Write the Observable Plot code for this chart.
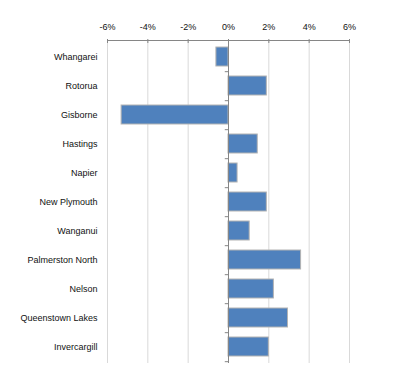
<!DOCTYPE html>
<html>
<head>
<meta charset="utf-8">
<script src="https://cdn.jsdelivr.net/npm/d3@7"></script>
<script src="https://cdn.jsdelivr.net/npm/@observablehq/plot@0.6"></script>
<style>
  html, body { margin: 0; padding: 0; background: #fff; }
  svg { display: block; }
</style>
</head>
<body>
<div id="chart"></div>
<script>
const cities = ["Whangarei", "Rotorua", "Gisborne", "Hastings", "Napier", "New Plymouth", "Wanganui", "Palmerston North", "Nelson", "Queenstown Lakes", "Invercargill"];
const changes = [-0.6, 1.9, -5.3, 1.45, 0.45, 1.9, 1.05, 3.6, 2.25, 2.95, 2.0];
const xTicks = [-6, -4, -2, 0, 2, 4, 6];

const data = cities.map((c, i) => ({city: c, value: changes[i]}));

const W = 414, H = 386, mT = 40, mB = 23, mL = 107, mR = 65;
const step = (H - mT - mB) / cities.length;

const chart = Plot.plot({
  width: W,
  height: H,
  marginTop: mT,
  marginBottom: mB,
  marginLeft: mL,
  marginRight: mR,
  style: {fontFamily: "'Liberation Sans', Arial, sans-serif", fontSize: "9px", color: "#111", background: "#fff"},
  x: {domain: [-6, 6], label: null},
  y: {domain: cities, paddingInner: 0.34, paddingOuter: 0.17, label: null},
  marks: [
    Plot.ruleX(xTicks, {stroke: "#d9d9d9", strokeWidth: 1}),
    Plot.axisX(xTicks, {anchor: "top", tickSize: 4, dy: 2, tickPadding: 9, stroke: "#868686", tickFormat: d => d + "%", fill: "#111", label: null}),
    Plot.axisY({anchor: "left", tickSize: 0, tickPadding: 10, fill: "#111", label: null}),
    Plot.barX(data, {x: "value", y: "city", fill: "#4F81BD", stroke: "#b3b3b3", strokeWidth: 1}),
    Plot.ruleY(cities, {y: d => d, x1: -0.16, x2: 0, dy: step / 2, stroke: "#868686"}),
    Plot.ruleX([0], {stroke: "#868686", strokeWidth: 1}),
    Plot.frame({anchor: "top", stroke: "#868686"})
  ]
});
document.getElementById("chart").appendChild(chart);
</script>
</body>
</html>
